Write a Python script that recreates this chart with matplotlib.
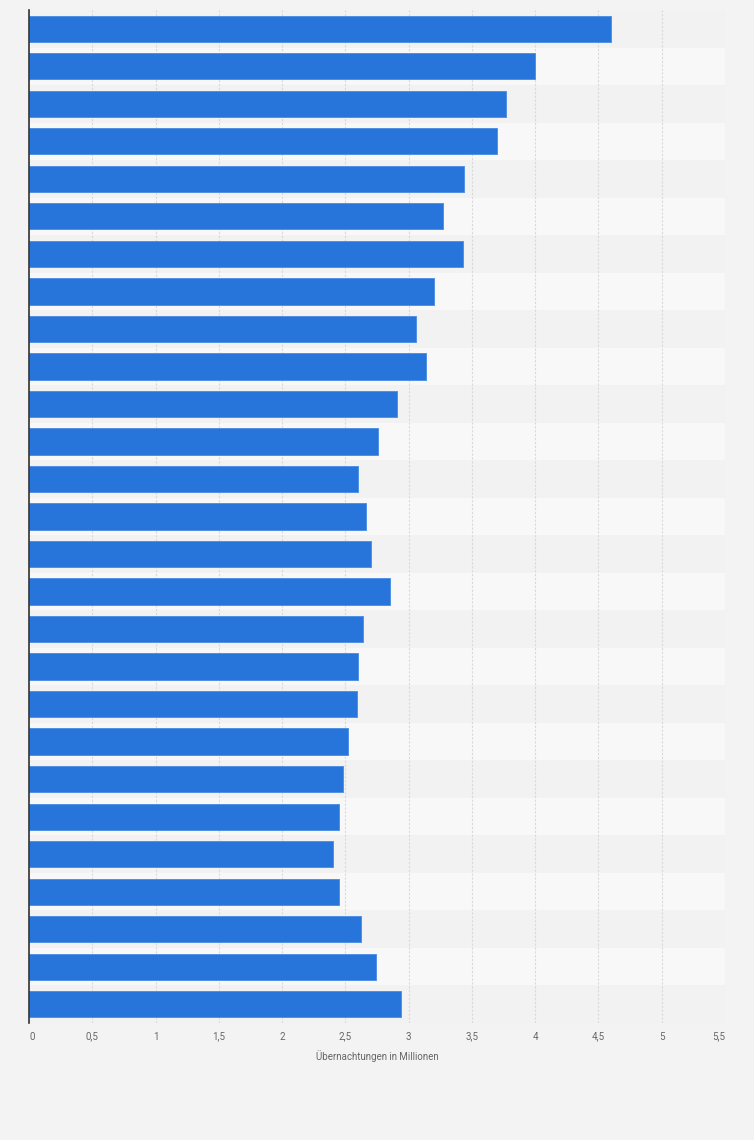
import matplotlib.pyplot as plt

# Übernachtungen in Millionen, top bar first (no category labels shown)
values = [4.60, 4.00, 3.77, 3.70, 3.44, 3.27, 3.43, 3.20, 3.06, 3.14,
          2.91, 2.76, 2.60, 2.66, 2.70, 2.85, 2.64, 2.60, 2.59, 2.52,
          2.48, 2.45, 2.40, 2.45, 2.62, 2.74, 2.94]
xticks = [0, 0.5, 1, 1.5, 2, 2.5, 3, 3.5, 4, 4.5, 5, 5.5]
xtick_labels = ["0", "0,5", "1", "1,5", "2", "2,5", "3", "3,5", "4", "4,5", "5", "5,5"]
xlabel = "Übernachtungen in Millionen"

plt.rcParams["font.family"] = ["Roboto", "DejaVu Sans"]

fig = plt.figure(figsize=(7.54, 11.4), dpi=100)
fig.patch.set_facecolor("#f3f3f3")
ax = fig.add_axes([29 / 754, (1140 - 1023) / 1140, 696 / 754, 1013 / 1140])
ax.set_facecolor("#f3f3f3")

n = len(values)
pos = list(range(n))

# alternating row bands
for i in pos:
    ax.axhspan(i - 0.5, i + 0.5, color="#f2f2f2" if i % 2 == 0 else "#f8f8f8",
               zorder=0, lw=0)

ax.barh(pos, values, height=0.7, color="#2775db", edgecolor="#5290e4",
        linewidth=0.7, zorder=3)

ax.set_xlim(0, 5.5)
ax.set_ylim(n - 0.5, -0.5)
ax.set_xticks(xticks)
ax.set_xticklabels(xtick_labels)
ax.set_yticks([])
ax.grid(axis="x", color="#d9d9d9", linestyle=(0, (2, 1.5)), linewidth=0.8, zorder=1)

ax.tick_params(axis="x", length=0, pad=12, labelsize=7, labelcolor="#666666")

# same baseline for all labels, end labels sit inside the plot edges
labels = ax.get_xticklabels()
for lab in labels:
    lab.set_verticalalignment("baseline")
labels[0].set_horizontalalignment("left")
labels[-1].set_horizontalalignment("right")

for side in ["top", "right", "bottom"]:
    ax.spines[side].set_visible(False)
ax.spines["left"].set_color("#333333")
ax.spines["left"].set_linewidth(1.2)
ax.spines["left"].set_zorder(4)

ax.set_xlabel(xlabel, fontsize=7, color="#666666", labelpad=6)

fig.savefig("out.png", dpi=100, facecolor=fig.get_facecolor())
